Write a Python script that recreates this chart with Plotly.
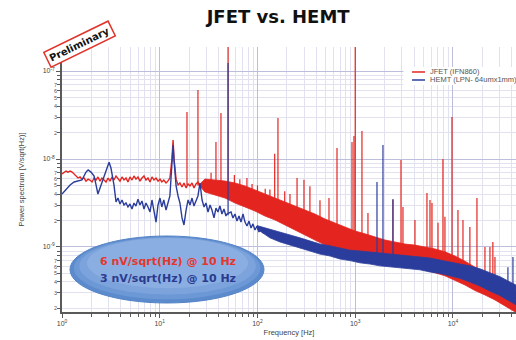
import math
import plotly.graph_objects as go

# ---------------- data ----------------
# frequencies in Hz, noise amplitudes in nV/sqrt(Hz)

# JFET (IFN860): low-frequency trace
jfet_line_f = [1.0, 1.05, 1.10, 1.15, 1.21, 1.27, 1.33, 1.39, 1.46, 1.53, 1.60, 1.68, 1.76, 1.85, 1.93,
               2.03, 2.13, 2.23, 2.33, 2.45, 2.56, 2.69, 2.82, 2.96, 3.10, 3.25, 3.40, 3.57, 3.74, 3.92,
               4.11, 4.31, 4.52, 4.73, 4.96, 5.20, 5.45, 5.71, 5.99, 6.28, 6.58, 6.90, 7.23, 7.58, 7.95,
               8.33, 8.73, 9.16, 9.60, 10.06, 10.5, 11.0, 11.6, 12.1, 12.7, 13.3, 13.7, 14.0, 14.7, 15.4,
               16.1, 16.9, 17.7, 18.6, 19.5, 20.4, 21.4, 22.4, 23.5, 24.6, 25.8, 27.1, 28.4, 29.7, 31.2]
jfet_line_v = [6.76, 7.1, 7.3, 7.1, 7.3, 7.1, 6.76, 6.41, 6.08, 6.25, 5.9, 6.08, 5.6, 5.9, 5.77,
               5.48, 6.08, 5.77, 6.25, 5.6, 6.08, 5.77, 5.48, 6.08, 5.6, 6.25, 5.77, 6.41, 5.9, 5.6,
               6.25, 5.77, 6.08, 5.48, 6.25, 5.77, 6.41, 5.9, 6.25, 5.6, 6.08, 6.41, 5.77, 6.08, 5.48,
               6.25, 5.77, 6.08, 5.6, 5.9, 5.48, 5.77, 5.34, 5.6, 6.08, 9.75, 16.4, 10.0, 5.9, 5.07,
               5.34, 4.8, 5.34, 4.68, 5.2, 4.94, 5.34, 4.68, 5.2, 5.48, 4.8, 5.34, 4.68, 5.07, 4.56]

# JFET: noise band (upper / lower envelope) above ~25 Hz
jfet_band_f = [25.8, 29, 36.7, 46.5, 58.9, 74.5, 94.3, 119, 151, 191, 242, 306, 387, 491, 621, 785,
               994, 1259, 1592, 2015, 2550, 3228, 4085, 5170, 6545, 8280, 10480, 13270, 16790,
               21250, 26900, 34040, 44150]
jfet_band_hi = [5.2, 5.93, 5.77, 5.62, 5.34, 4.94, 4.45, 4.0, 3.6, 3.25, 2.92, 2.63, 2.37, 2.08, 1.87, 1.69,
                1.52, 1.41, 1.30, 1.2, 1.14, 1.08, 1.05, 1.0, 0.95, 0.88, 0.79, 0.69, 0.59,
                0.51, 0.43, 0.36, 0.31]
jfet_band_lo = [4.9, 4.22, 3.9, 3.6, 3.16, 2.85, 2.56, 2.25, 2.03, 1.78, 1.56, 1.37, 1.2, 1.05, 0.95, 0.88,
                0.81, 0.75, 0.71, 0.68, 0.64, 0.61, 0.58, 0.55, 0.51, 0.47, 0.42, 0.37, 0.32,
                0.285, 0.25, 0.214, 0.18]

# JFET: pick-up lines (frequency, peak, foot)
jfet_spike_f = [19.0, 24.6, 33.5, 37.6, 42.3, 50, 58, 66, 78, 88, 100, 120, 134, 150, 162, 190, 215,
                254, 299, 344, 436, 539, 651, 927, 971, 1000,
                1172, 1350, 2432, 2940, 3080, 4085, 5420, 5820, 6100, 7030, 7900, 8280, 9770,
                11250, 12660, 14900, 17600, 21250, 23900, 25600, 26900]
jfet_spike_top = [34.2, 60.8, 7.0, 15.6, 33.3, 250, 6.6, 5.9, 6.1, 5.2, 5.0, 4.6, 4.5, 11.5, 29.3, 4.3, 4.0,
                  6.1, 5.8, 4.9, 3.4, 3.6, 13.3, 15.6, 18.2, 300,
                  20.8, 2.43, 3.42, 9.75, 2.85, 2.03, 4.1, 3.42, 3.16, 1.88, 10.0, 2.2, 30.0,
                  2.63, 2.03, 1.69, 3.6, 1.0, 1.0, 1.14, 0.77]
jfet_spike_base = [5.0, 5.0, 4.8, 4.5, 4.3, 4.0, 4.0, 3.8, 3.5, 3.3, 3.0, 3.0, 2.8, 2.7, 3.0, 2.5, 2.4,
                   2.5, 2.3, 2.2, 2.0, 1.8, 1.5, 1.3, 1.3, 1.3,
                   1.2, 1.1, 1.0, 0.9, 0.9, 0.9, 0.8, 0.8, 0.8, 0.8, 0.75, 0.75, 0.7,
                   0.65, 0.6, 0.55, 0.5, 0.45, 0.42, 0.4, 0.38]

# HEMT (LPN- 64umx1mm): low-frequency trace
hemt_line_f = [1.0, 1.10, 1.21, 1.33, 1.46, 1.60, 1.76, 1.85, 1.98, 2.13, 2.23, 2.33, 2.45, 2.63, 2.82,
               3.03, 3.17, 3.40, 3.57, 3.74, 3.92, 4.11, 4.31, 4.52, 4.73, 4.96, 5.20, 5.45, 5.71, 5.99,
               6.28, 6.58, 6.90, 7.23, 7.58, 7.95, 8.33, 8.73, 9.16, 9.60, 10.06, 10.5, 11.0, 11.6, 12.1,
               12.7, 13.3, 13.7, 14.0, 14.7, 15.4, 16.1, 16.9, 17.7, 18.6, 19.5, 20.4, 21.4, 22.4, 23.5,
               24.6, 25.8, 27.1, 28.4, 29.7, 31.2, 32.7, 34.2, 35.9, 37.6, 39.4, 41.3, 43.3, 45.4, 47.6,
               48.7, 53.6, 56.1, 58.9, 61.7, 64.7, 67.8, 71.1, 74.5, 78.1, 81.9, 85.9, 89.9, 94.3, 98.9,
               103.6, 108.6, 113.8, 119]
hemt_line_v = [4.0, 4.45, 5.07, 5.48, 5.6, 5.77, 7.1, 7.5, 7.1, 6.41, 5.07, 4.0, 4.68, 5.77, 7.1,
               9.2, 7.9, 5.07, 3.25, 3.6, 3.08, 3.42, 3.0, 3.16, 2.85, 3.08, 2.7, 3.16, 2.92, 3.5,
               3.0, 3.33, 2.7, 3.16, 2.85, 2.5, 3.42, 2.63, 1.92, 3.0, 3.6, 2.85, 3.42, 2.63, 3.25,
               3.8, 8.55, 14.4, 9.75, 4.94, 3.8, 3.16, 2.14, 1.78, 2.63, 3.42, 3.0, 3.6, 2.92, 3.42,
               3.8, 5.34, 3.42, 2.85, 3.16, 2.5, 3.0, 2.63, 2.14, 2.77, 2.5, 2.92, 2.37, 2.7, 2.25,
               2.37, 2.5, 2.14, 2.37, 1.97, 2.25, 1.92, 2.37, 1.92, 1.73, 1.97, 1.64, 1.83, 1.56, 1.73,
               1.48, 1.64, 1.44, 1.6]

# HEMT: noise band above ~100 Hz
hemt_band_f = [98.9, 134, 170, 215, 272, 344, 436, 552, 698, 884, 1120, 1415, 1790, 2265, 2870,
               3630, 4590, 5820, 7360, 9310, 11800, 14900, 18900, 23900, 30300, 38300, 44100]
hemt_band_hi = [1.75, 1.6, 1.48, 1.37, 1.27, 1.17, 1.08, 1.03, 0.97, 0.92, 0.90, 0.88, 0.85, 0.83, 0.81,
                0.79, 0.77, 0.75, 0.71, 0.68, 0.64, 0.61, 0.565, 0.51, 0.46, 0.40, 0.37]
hemt_band_lo = [1.6, 1.27, 1.14, 1.05, 0.97, 0.90, 0.83, 0.79, 0.73, 0.70, 0.66, 0.64, 0.61, 0.60, 0.58,
                0.565, 0.55, 0.52, 0.50, 0.47, 0.44, 0.40, 0.36, 0.315, 0.28, 0.24, 0.22]

# HEMT: pick-up lines
hemt_spike_f = [50, 1670, 1923, 2432, 36500, 41100]
hemt_spike_top = [123, 5.48, 14.4, 3.5, 0.59, 0.77]
hemt_spike_base = [2.3, 0.7, 0.7, 0.65, 0.3, 0.28]

series_names = ["JFET (IFN860)", "HEMT (LPN- 64umx1mm)"]

# axis ticks
x_tick_vals = [1, 10, 100, 1000, 10000]
x_tick_text = ["10<sup>0</sup>", "10<sup>1</sup>", "10<sup>2</sup>", "10<sup>3</sup>", "10<sup>4</sup>"]
y_tick_vals = [1e-9, 1e-8, 1e-7]
y_tick_text = ["10<sup>-9</sup>", "10<sup>-8</sup>", "10<sup>-7</sup>"]
y_minor_labels = ["2", "3", "4", "5", "6", "7"]
decades_y = [-10, -9, -8, -7]
decades_x = [0, 1, 2, 3, 4]

RED = "#e4251f"
BLUE = "#2b3d9c"
NV = 1e-9
Y_LO, Y_HI = -9.739, -6.727

def nv(vals):
    return [v * NV for v in vals]

def spikes(f, top, base):
    xs, ys = [], []
    for a, t, b in zip(f, top, base):
        xs += [a, a, None]
        ys += [b * NV, t * NV, None]
    return xs, ys

def band(f, hi, lo):
    return f + f[::-1], nv(hi) + nv(lo)[::-1]

fig = go.Figure()

bx, by = band(jfet_band_f, jfet_band_hi, jfet_band_lo)
fig.add_trace(go.Scatter(x=bx, y=by, fill="toself", fillcolor=RED, mode="lines",
                         line=dict(color=RED, width=0.8), showlegend=False, hoverinfo="skip"))
fig.add_trace(go.Scatter(x=jfet_line_f, y=nv(jfet_line_v), mode="lines", name=series_names[0],
                         line=dict(color=RED, width=1.4), showlegend=False))
sx, sy = spikes(jfet_spike_f, jfet_spike_top, jfet_spike_base)
fig.add_trace(go.Scatter(x=sx, y=sy, mode="lines", line=dict(color=RED, width=1.2),
                         showlegend=False, hoverinfo="skip"))

bx, by = band(hemt_band_f, hemt_band_hi, hemt_band_lo)
fig.add_trace(go.Scatter(x=bx, y=by, fill="toself", fillcolor=BLUE, mode="lines",
                         line=dict(color=BLUE, width=0.8), showlegend=False, hoverinfo="skip"))
fig.add_trace(go.Scatter(x=hemt_line_f, y=nv(hemt_line_v), mode="lines", name=series_names[1],
                         line=dict(color=BLUE, width=1.4), showlegend=False))
sx, sy = spikes(hemt_spike_f, hemt_spike_top, hemt_spike_base)
fig.add_trace(go.Scatter(x=sx, y=sy, mode="lines", line=dict(color=BLUE, width=1.2),
                         showlegend=False, hoverinfo="skip"))

AX = "#5a5a5a"
minor_x = [m * 10 ** d for d in decades_x for m in range(2, 10)]
minor_y = [m * 10 ** d for d in decades_y for m in range(2, 10)]

fig.update_xaxes(type="log", range=[0, 4.645], tickvals=x_tick_vals, ticktext=x_tick_text,
                 showline=True, linecolor=AX, linewidth=1.5, ticks="outside", ticklen=4,
                 tickcolor=AX, tickfont=dict(family="Liberation Sans", size=7, color="#444"),
                 showgrid=True, gridcolor="#bdbddc", gridwidth=1.2, zeroline=False,
                 minor=dict(tickvals=minor_x, ticks="outside", ticklen=3, tickcolor=AX,
                            showgrid=True, gridcolor="#e1e1ef", gridwidth=1),
                 title=dict(text="Frequency [Hz]", font=dict(family="Liberation Sans", size=7.5, color="#444"),
                            standoff=4))
fig.update_yaxes(type="log", range=[Y_LO, Y_HI], tickvals=y_tick_vals, ticktext=y_tick_text,
                 showline=True, linecolor=AX, linewidth=1.5, ticks="outside", ticklen=4,
                 tickcolor=AX, tickfont=dict(family="Liberation Sans", size=7, color="#444"),
                 showgrid=True, gridcolor="#bdbddc", gridwidth=1.2, zeroline=False,
                 minor=dict(tickvals=minor_y, ticks="outside", ticklen=3, tickcolor=AX,
                            showgrid=True, gridcolor="#e1e1ef", gridwidth=1),
                 title=dict(text="Power spectrum [V/sqrt(Hz)]",
                            font=dict(family="Liberation Sans", size=7.5, color="#444"), standoff=17))

annotations = []
# minor y labels
for d in decades_y:
    for lab in y_minor_labels:
        val = int(lab) * 10 ** d
        if Y_LO <= math.log10(val) <= Y_HI:
            annotations.append(dict(x=0, xref="paper", y=math.log10(val), yref="y", text=lab,
                                    showarrow=False, xanchor="right", yanchor="middle", xshift=-3,
                                    font=dict(family="Liberation Sans", size=5.5, color="#555")))

# legend (text entries next to short coloured line samples)
legend_rows = [0.9057, 0.8755]
for name, col, yy in zip(series_names, [RED, BLUE], legend_rows):
    annotations.append(dict(x=0.806, y=yy, xref="paper", yref="paper", text=name, showarrow=False,
                            xanchor="left", yanchor="middle",
                            font=dict(family="Liberation Sans", size=7.5, color="#555")))

# 'Preliminary' stamp
annotations.append(dict(x=0.0396, y=1.0113, xref="paper", yref="paper", text="<b>Preliminary</b>",
                        showarrow=False, textangle=-26, xanchor="center", yanchor="middle",
                        bordercolor="#e0352c", borderwidth=1.5, borderpad=2, bgcolor="white",
                        font=dict(family="DejaVu Sans", size=10, color="#111")))
# ellipse labels
annotations.append(dict(x=0.2335, y=0.1887, xref="paper", yref="paper", xanchor="center", yanchor="middle",
                        text="<b>6 nV/sqrt(Hz) @ 10 Hz</b>", showarrow=False,
                        font=dict(family="DejaVu Sans", size=11, color="#e3372e")))
annotations.append(dict(x=0.2335, y=0.1283, xref="paper", yref="paper", xanchor="center", yanchor="middle",
                        text="<b>3 nV/sqrt(Hz) @ 10 Hz</b>", showarrow=False,
                        font=dict(family="DejaVu Sans", size=11, color="#2a3a8e")))

shapes = [
    # white patch behind the legend
    dict(type="rect", xref="paper", yref="paper", x0=0.752, x1=1.0, y0=0.857, y1=0.925,
         fillcolor="white", line=dict(width=0), layer="above"),
    dict(type="line", xref="paper", yref="paper", x0=0.771, x1=0.7996, y0=legend_rows[0], y1=legend_rows[0],
         line=dict(color=RED, width=1.5), layer="above"),
    dict(type="line", xref="paper", yref="paper", x0=0.771, x1=0.7996, y0=legend_rows[1], y1=legend_rows[1],
         line=dict(color=BLUE, width=1.5), layer="above"),
    # ellipse with soft shading
    dict(type="circle", xref="paper", yref="paper", x0=0.0176, x1=0.4449, y0=0.034, y1=0.2868,
         fillcolor="#5b8acd", line=dict(color="#5483c6", width=1), layer="above"),
    dict(type="circle", xref="paper", yref="paper", x0=0.026, x1=0.437, y0=0.048, y1=0.283,
         fillcolor="#6c98d5", line=dict(width=0), layer="above"),
    dict(type="circle", xref="paper", yref="paper", x0=0.038, x1=0.427, y0=0.066, y1=0.281,
         fillcolor="#7ca3db", line=dict(width=0), layer="above"),
    dict(type="circle", xref="paper", yref="paper", x0=0.055, x1=0.41, y0=0.09, y1=0.279,
         fillcolor="#8aaee1", line=dict(width=0), layer="above"),
]

fig.update_layout(
    width=516, height=340,
    margin=dict(l=62, r=0, t=47, b=28, autoexpand=False),
    paper_bgcolor="white", plot_bgcolor="white",
    title=dict(text="<b>JFET vs. HEMT</b>", x=0.539, xanchor="center", y=0.95, yanchor="middle",
               font=dict(family="DejaVu Sans", size=18, color="#111")),
    showlegend=False,
    annotations=annotations,
    shapes=shapes,
)

fig.write_html("out.html")
